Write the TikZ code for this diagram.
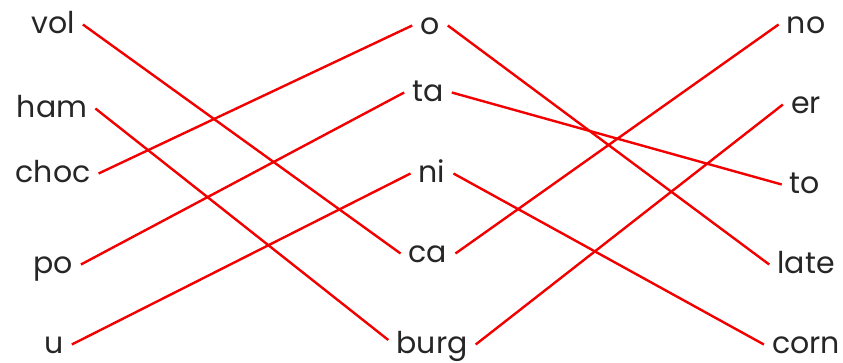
\documentclass[tikz,border=0pt]{standalone}
\usepackage{fontspec}
\setmainfont{Poppins}
\begin{document}
\begin{tikzpicture}[x=1pt,y=-1pt,
  word/.style={font=\fontsize{30}{33}\selectfont, text=black!85, inner xsep=8pt, inner ysep=0pt, anchor=base},
  link/.style={draw=red!95!black, line width=2.4pt}]
\useasboundingbox (0,0) rectangle (843,362);
% left column (positions are baselines)
\node[word] (vol)  at (53,33)  {vol};
\node[word] (ham)  at (52,117) {ham};
\node[word] (choc) at (53,182) {choc};
\node[word] (po)   at (53,273) {po};
\node[word] (u)    at (54,353) {u};
% middle column
\node[word] (o)    at (430,34)  {o};
\node[word] (ta)   at (428,101) {ta};
\node[word] (ni)   at (432,182) {ni};
\node[word] (ca)   at (428,262) {ca};
\node[word] (burg) at (432,353) {burg};
% right column
\node[word] (no)   at (806,33)  {no};
\node[word] (er)   at (806,113) {er};
\node[word] (to)   at (805,193) {to};
\node[word] (late) at (806,273) {late};
\node[word] (corn) at (806,353) {corn};
% connectors
\tikzset{r/.style={yshift=8.5pt}}
\draw[link] ([r]vol.base east)  -- ([r]ca.base west);
\draw[link] ([r]ham.base east)  -- ([yshift=13pt]burg.base west);
\draw[link] ([r]choc.base east) -- ([r]o.base west);
\draw[link] ([r]po.base east)   -- ([r]ta.base west);
\draw[link] ([r]u.base east)    -- ([r]ni.base west);
\draw[link] ([r]o.base east)    -- ([r]late.base west);
\draw[link] ([r]ta.base east)   -- ([r]to.base west);
\draw[link] ([r]ni.base east)   -- ([r]corn.base west);
\draw[link] ([r]ca.base east)   -- ([r]no.base west);
\draw[link] ([r]burg.base east) -- ([r]er.base west);
\end{tikzpicture}
\end{document}
